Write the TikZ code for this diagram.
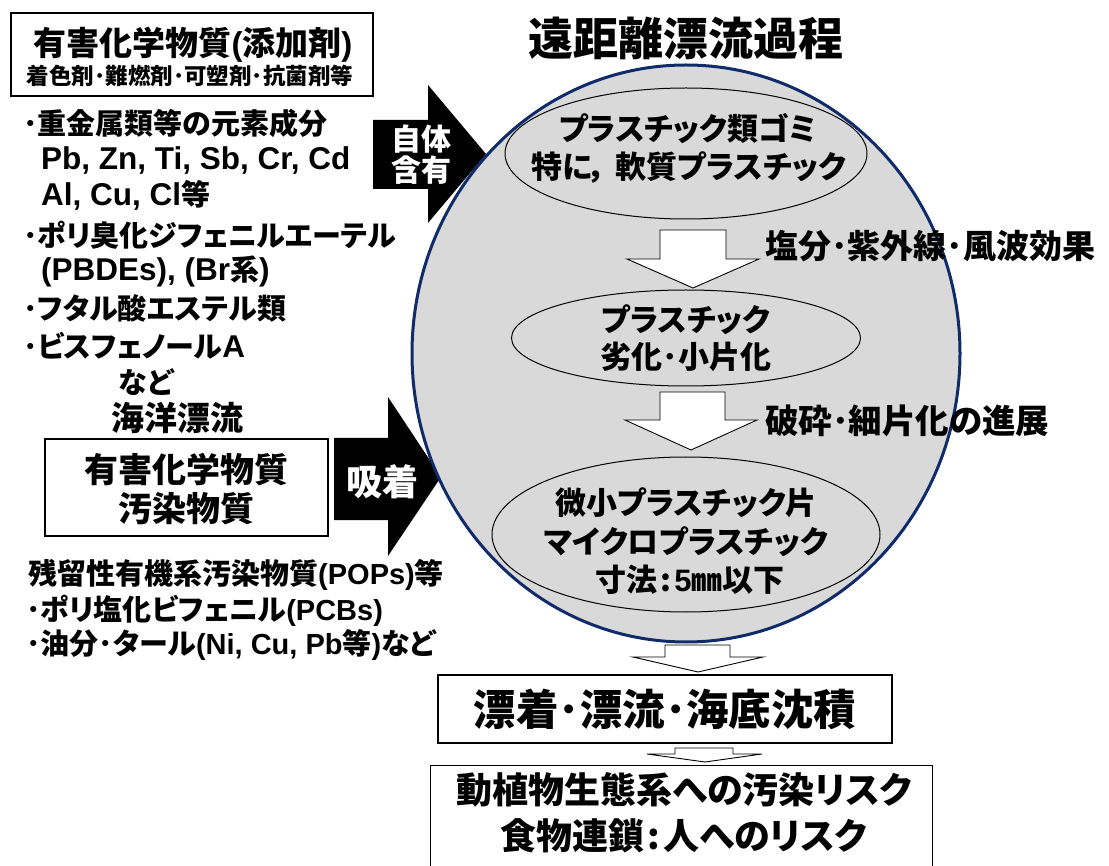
\documentclass[tikz,border=0pt]{standalone}
\usepackage{fontspec}
\setmainfont{Noto Sans CJK JP}[RawFeature=+palt]
\newfontfamily\lat{Liberation Sans}
\newcommand\biglat[1]{{\lat\fontsize{31.5}{31.5}\selectfont #1}}
\usetikzlibrary{shapes.geometric}
\definecolor{circfill}{HTML}{D9D9D9}
\definecolor{navy}{HTML}{0F2B6A}
\tikzset{
  fs/.style={font=\bfseries\fontsize{#1}{#1}\selectfont},
  txt/.style={inner sep=0pt, fs=#1},
  ltxt/.style={inner sep=0pt, anchor=west, fs=#1},
  boxnode/.style={draw=black, line width=1.2pt, fill=white, inner sep=0pt},
  inell/.style={ellipse, draw=black, line width=1pt, fill=circfill, inner sep=0pt},
  whitearrow/.style={draw=black, line width=0.9pt, fill=white},
  blackarrow/.style={fill=black},
  wtxt/.style={text=white, align=center, inner sep=0pt},
}
\begin{document}
\begin{tikzpicture}[x=1pt,y=-1pt]
\clip (0,0) rectangle (1109,866);
\fill[white] (0,0) rectangle (1109,866);

% title
\node[txt=45] (title) at (686,38) {遠距離漂流過程};

% top-left box
\node[boxnode, minimum width=362pt, minimum height=83pt] (box1) at (192,54.5) {};
\node[txt=33] (b1a) at (193,45) {有害化学物質{\lat (}添加剤{\lat )}};
\node[txt=22.5] (b1b) at (190,76) {着色剤･難燃剤･可塑剤･抗菌剤等};

% list of additives
\node[ltxt=29] (l1) at (23,123) {･重金属類等の元素成分};
\node[ltxt=29] (l2) at (41,161) {\biglat{Pb, Zn, Ti, Sb, Cr, Cd}};
\node[ltxt=29] (l3) at (41,195) {\biglat{Al, Cu, Cl}等};
\node[ltxt=29] (l4) at (23,235) {･ポリ臭化ジフェニルエーテル};
\node[ltxt=29] (l5) at (41,271) {\biglat{(PBDEs), (Br}系\biglat{)}};
\node[ltxt=29] (l6) at (23,308) {･フタル酸エステル類};
\node[ltxt=29] (l7) at (23,346) {･ビスフェノール\biglat{A}};
\node[txt=29] (l8) at (146,382) {など};
\node[txt=33] (l9) at (177,418) {海洋漂流};

% second box
\node[boxnode, minimum width=283pt, minimum height=97pt] (box2) at (186.5,487.5) {};
\node[txt=34, align=center] (b2a) at (186.5,470) {有害化学物質};
\node[txt=34, align=center] (b2b) at (186.5,509) {汚染物質};

% POPs list
\node[ltxt=29] (p1) at (28,575) {残留性有機系汚染物質{\lat (POPs)}等};
\node[ltxt=29] (p2) at (26,611) {･ポリ塩化ビフェニル{\lat (PCBs)}};
\node[ltxt=29] (p3) at (26,645) {･油分･タール{\lat (Ni, Cu, Pb}等{\lat )}など};

% black arrows (drawn before the circle so it overlaps the tips)
\fill[blackarrow] (373,120) -- (428,120) -- (428,85) -- (486,154) -- (428,223) -- (428,189) -- (373,189) -- cycle;
\fill[blackarrow] (334,438) -- (388,438) -- (388,397) -- (441,477) -- (388,556) -- (388,520) -- (334,520) -- cycle;

% big circle
\node[ellipse, draw=navy, line width=3pt, fill=circfill, minimum width=548pt, minimum height=577pt, inner sep=0pt] (circ) at (686,353.5) {};

% arrow labels
\node[wtxt, font=\bfseries\fontsize{30}{31}\selectfont] (a1t) at (421,155) {自体\\含有};
\node[wtxt, fs=36] (a2t) at (382,482) {吸着};

% inner ellipses
\node[inell, minimum width=362pt, minimum height=131pt] (e1) at (686,153.5) {};
\node[txt=31] (e1a) at (688,129) {プラスチック類ゴミ};
\node[txt=31] (e1b) at (689,167) {特に，\hspace{9pt}軟質プラスチック};

\node[inell, minimum width=349pt, minimum height=96pt] (e2) at (686,338) {};
\node[txt=31] (e2a) at (686,320) {プラスチック};
\node[txt=31] (e2b) at (686,357) {劣化･小片化};

\node[inell, minimum width=388pt, minimum height=155pt] (e3) at (686,534.5) {};
\node[txt=31] (e3a) at (686,503) {微小プラスチック片};
\node[txt=31] (e3b) at (686,542) {マイクロプラスチック};
\node[txt=31] (e3c) at (690,580) {寸法\hspace{3pt}:\hspace{3pt}{\lat 5}㎜以下};

% white block arrows inside circle
\draw[whitearrow] (660,230) -- (726,230) -- (726,259) -- (759,259) -- (693,288) -- (627,259) -- (660,259) -- cycle;
\draw[whitearrow] (660,392) -- (725,392) -- (725,420) -- (757,420) -- (691,450) -- (625,420) -- (660,420) -- cycle;

% side labels
\node[ltxt=33] (s1) at (765,246) {塩分･紫外線･風波効果};
\node[ltxt=33.5] (s2) at (765,421) {破砕･細片化の進展};

% bottom
\draw[whitearrow] (665,645) -- (730,645) -- (730,657) -- (763,657) -- (698,672) -- (633,657) -- (665,657) -- cycle;
\node[boxnode, minimum width=454pt, minimum height=68pt] (box3) at (665,709) {};
\node[txt=42.5] (b3) at (665,709) {漂着･漂流･海底沈積};
\draw[whitearrow] (675,748) -- (733,748) -- (733,754) -- (762,754) -- (705,762) -- (647,754) -- (675,754) -- cycle;
\node[boxnode, minimum width=502pt, minimum height=140pt, anchor=north west] (box4) at (430,765) {};
\node[txt=36] (b4a) at (684,790) {動植物生態系への汚染リスク};
\node[txt=36] (b4b) at (684,836) {食物連鎖\hspace{3pt}:\hspace{3pt}人へのリスク};
\end{tikzpicture}
\end{document}
